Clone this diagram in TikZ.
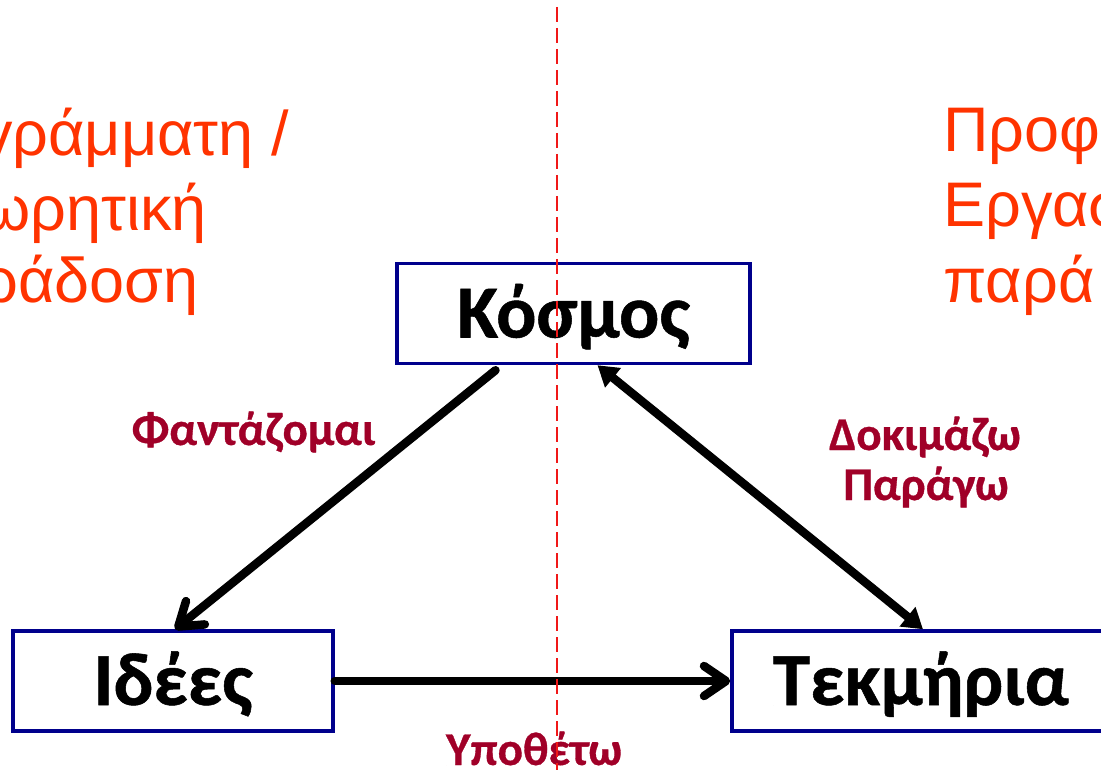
\documentclass[tikz,border=0pt]{standalone}
\usepackage{fontspec}
\setmainfont{Liberation Sans}
\newfontfamily\boxfont[BoldFeatures={FakeBold=0.7}]{Carlito}
\usetikzlibrary{arrows.meta}
\definecolor{boxblue}{HTML}{00008C}
\definecolor{labred}{HTML}{A00028}
\definecolor{orng}{HTML}{FF3300}
\definecolor{dashred}{HTML}{F01818}
\begin{document}
\begin{tikzpicture}[x=1pt,y=-1pt,
  box/.style={draw=boxblue, line width=3.5pt, fill=white, inner sep=0pt,
    minimum height=100pt, text height=51pt, text depth=3pt,
    font=\boxfont\bfseries\fontsize{75}{75}\selectfont},
  lab/.style={text=labred, inner sep=0pt, anchor=base,
    font=\boxfont\bfseries\fontsize{47}{47}\selectfont},
  side/.style={text=orng, inner sep=0pt,
    font=\fontsize{63}{63}\selectfont},
  conn/.style={line width=8.5pt, line cap=round, draw=black},
  barb/.tip={Straight Barb[length=22pt,width=30pt,round]},
  tri/.tip={Triangle[length=20pt,width=24pt]},
  dashline/.style={draw=dashred, line width=2pt, dash pattern=on 15pt off 6pt}
]
\useasboundingbox (0,0) rectangle (1101,770);
\clip (0,0) rectangle (1101,770);

% side texts
\node[side, anchor=base east] (l1) at (289,156) {γράμματη /};
\node[side, anchor=base east] (l2) at (207,231) {ωρητική};
\node[side, anchor=base east] (l3) at (199,302) {ράδοση};
\node[side, anchor=base west] (r1) at (943,152) {Προφ};
\node[side, anchor=base west] (r2) at (943,227) {Εργασ};
\node[side, anchor=base west] (r3) at (943,302) {παρά};

% boxes
\node[box, minimum width=353pt] (kosmos) at (573.5,313.5) {Κόσμος};
\node[box, minimum width=320pt] (idees) at (173,681) {Ιδέες};
\node[box, minimum width=378pt] (tek) at (921,681) {Τεκμήρια};

% connectors
\draw[conn, -barb] ([xshift=-78pt,yshift=-5pt]kosmos.south) -- ([xshift=2pt]idees.north);
\draw[conn, tri-tri] ([xshift=24pt]kosmos.south) -- ([xshift=2pt]tek.north);
\draw[conn, -barb] (idees.east) -- (tek.west);

% labels
\node[lab] (fant) at (253.5,445) {Φαντάζομαι};
\node[lab] (dok) at (925,450) {Δοκιμάζω};
\node[lab] (par) at (926,500) {Παράγω};
\node[lab] (ypo) at (534,765) {Υποθέτω};

% dashed divider
\coordinate (dtop) at (557,7);
\coordinate (dbot) at (557,770);
\draw[dashline] (dtop) -- (dbot);
\end{tikzpicture}
\end{document}
